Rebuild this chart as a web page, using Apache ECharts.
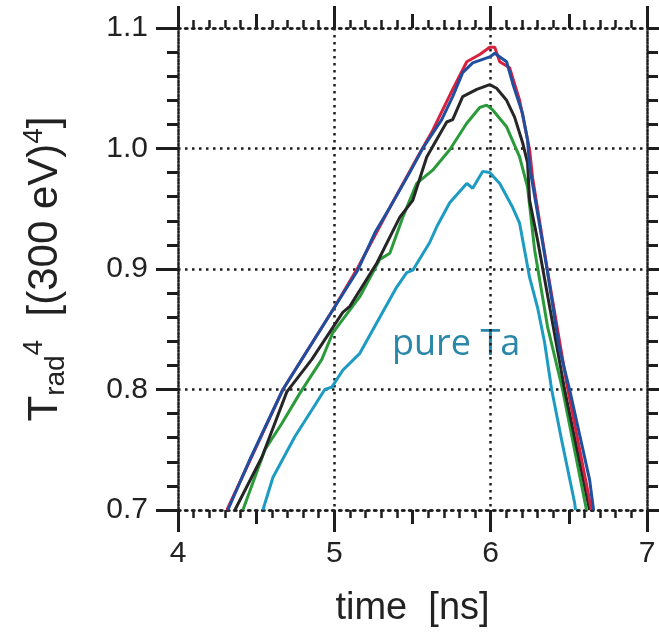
<!DOCTYPE html>
<html>
<head>
<meta charset="utf-8">
<script src="https://cdn.jsdelivr.net/npm/echarts@6/dist/echarts.min.js"></script>
<style>
  html, body { margin: 0; padding: 0; background: #fff; }
  #chart { width: 659px; height: 637px; }
</style>
</head>
<body>
<div id="chart"></div>
<script>
// time [ns] and Trad^4 values
var tCyan = [4.543, 4.607, 4.748, 4.856, 4.939, 4.984, 5.054, 5.163, 5.291, 5.399, 5.463, 5.502, 5.610, 5.655, 5.738, 5.847, 5.885, 5.949, 5.994, 6.058, 6.141, 6.185, 6.249, 6.300, 6.345, 6.390, 6.454, 6.537, 6.543];
var vCyan = [0.700, 0.727, 0.761, 0.783, 0.800, 0.802, 0.816, 0.830, 0.860, 0.885, 0.897, 0.899, 0.922, 0.935, 0.955, 0.971, 0.967, 0.981, 0.980, 0.971, 0.951, 0.938, 0.893, 0.868, 0.839, 0.800, 0.758, 0.706, 0.700];

var tGreen = [4.415, 4.556, 4.665, 4.780, 4.920, 4.990, 5.163, 5.291, 5.355, 5.438, 5.527, 5.629, 5.738, 5.847, 5.930, 5.974, 6.013, 6.102, 6.185, 6.236, 6.281, 6.364, 6.460, 6.613];
var vGreen = [0.700, 0.750, 0.772, 0.797, 0.825, 0.847, 0.877, 0.908, 0.913, 0.943, 0.971, 0.982, 0.999, 1.021, 1.034, 1.036, 1.032, 1.018, 0.993, 0.968, 0.916, 0.852, 0.800, 0.700];

var tBlack = [4.364, 4.537, 4.696, 4.856, 5.054, 5.099, 5.272, 5.419, 5.502, 5.591, 5.719, 5.757, 5.821, 5.911, 5.994, 6.038, 6.102, 6.153, 6.204, 6.236, 6.249, 6.300, 6.473, 6.633];
var vBlack = [0.700, 0.744, 0.798, 0.825, 0.864, 0.869, 0.905, 0.943, 0.957, 0.993, 1.022, 1.024, 1.043, 1.049, 1.053, 1.050, 1.040, 1.026, 1.005, 0.988, 0.957, 0.924, 0.800, 0.700];

var tRed = [4.313, 4.671, 4.990, 5.150, 5.355, 5.546, 5.629, 5.757, 5.847, 5.930, 5.994, 6.026, 6.058, 6.121, 6.185, 6.249, 6.268, 6.358, 6.492, 6.645];
var vRed = [0.700, 0.800, 0.866, 0.901, 0.951, 0.996, 1.015, 1.049, 1.072, 1.078, 1.084, 1.084, 1.072, 1.067, 1.040, 0.999, 0.976, 0.903, 0.801, 0.700];

var tBlue = [4.319, 4.460, 4.671, 4.792, 4.990, 5.150, 5.259, 5.355, 5.482, 5.565, 5.687, 5.757, 5.821, 5.885, 5.994, 6.026, 6.102, 6.141, 6.204, 6.236, 6.249, 6.358, 6.441, 6.505, 6.633, 6.658];
var vBlue = [0.700, 0.742, 0.800, 0.825, 0.866, 0.899, 0.930, 0.951, 0.980, 1.000, 1.024, 1.043, 1.063, 1.071, 1.076, 1.079, 1.072, 1.054, 1.029, 1.007, 0.985, 0.902, 0.833, 0.800, 0.725, 0.700];

var xTicks = [4, 5, 6, 7];
var yTicks = [0.7, 0.8, 0.9, 1.0, 1.1];

function pairs(t, v) {
  return t.map(function (x, i) { return [x, v[i]]; });
}

var ink = '#1e1e1e';
var font = 'Liberation Sans';
var dotted = { color: ink, width: 2.5, type: [2.5, 4.5] };

function xAx(pos, main) {
  return {
    type: 'value', position: pos, min: xTicks[0], max: xTicks[xTicks.length - 1], interval: 1,
    axisLine: { show: true, onZero: false, lineStyle: dotted },
    axisTick: { show: true, length: 22, lineStyle: { color: ink, width: 3 } },
    minorTick: { show: true, splitNumber: 10, length: 8, lineStyle: { color: ink, width: 2.5 } },
    axisLabel: { show: main, fontSize: 30, color: '#222', margin: 29, fontFamily: font },
    splitLine: { show: main, lineStyle: dotted },
    name: main ? 'time  [ns]' : '',
    nameLocation: 'middle', nameGap: 80,
    nameTextStyle: { fontSize: 38, color: '#222', fontFamily: font }
  };
}
function xHalf(pos) {
  return {
    type: 'value', position: pos, min: 4, max: 7, interval: 0.5,
    axisLine: { show: false },
    axisTick: { show: true, length: 14, lineStyle: { color: ink, width: 3 } },
    axisLabel: { show: false }, splitLine: { show: false }
  };
}
function yAx(pos, main) {
  return {
    type: 'value', position: pos, min: yTicks[0], max: yTicks[yTicks.length - 1], interval: 0.1,
    axisLine: { show: true, onZero: false, lineStyle: dotted },
    axisTick: { show: true, length: 22, lineStyle: { color: ink, width: 3 } },
    minorTick: { show: true, splitNumber: 5, length: 11, lineStyle: { color: ink, width: 3 } },
    axisLabel: {
      show: main, fontSize: 30, color: '#222', margin: 30, fontFamily: font,
      formatter: function (v) { return v.toFixed(1); }
    },
    splitLine: { show: main, lineStyle: dotted },
    name: main ? '{t|T}{sub|rad}{sup|4}{t|  [(300 eV)}{sup|4}{t|]}' : '',
    nameLocation: 'middle', nameGap: 108, nameRotate: 90,
    nameTextStyle: {
      color: '#222', fontFamily: font,
      rich: {
        t: { fontSize: 42, color: '#222', fontFamily: font, lineHeight: 50, verticalAlign: 'middle' },
        sup: { fontSize: 28, color: '#222', fontFamily: font, lineHeight: 28, verticalAlign: 'top' },
        sub: { fontSize: 28, color: '#222', fontFamily: font, lineHeight: 36, verticalAlign: 'bottom' }
      }
    }
  };
}

function line(name, t, v, color) {
  return {
    name: name, type: 'line', data: pairs(t, v), showSymbol: false,
    lineStyle: { color: color, width: 3 }, itemStyle: { color: color }
  };
}

var chart = echarts.init(document.getElementById('chart'));
chart.setOption({
  animation: false,
  backgroundColor: '#fff',
  grid: { left: 178, right: 12, top: 28, bottom: 127 },
  xAxis: [xAx('bottom', true), xAx('top', false), xHalf('bottom'), xHalf('top')],
  yAxis: [yAx('left', true), yAx('right', false)],
  series: [
    line('pure Ta', tCyan, vCyan, '#1d9bc2'),
    line('green', tGreen, vGreen, '#2b9a3a'),
    line('black', tBlack, vBlack, '#262626'),
    line('red', tRed, vRed, '#d6213f'),
    line('blue', tBlue, vBlue, '#1f4f9e')
  ],
  graphic: [{
    type: 'text', left: 392, top: 327,
    style: { text: 'pure Ta', fontSize: 36, fill: '#2a87a8', fontFamily: 'Open Sans' }
  }]
});
</script>
</body>
</html>
